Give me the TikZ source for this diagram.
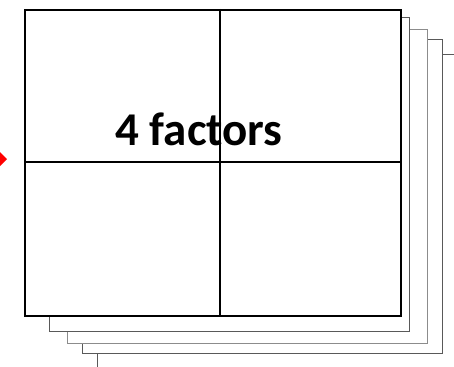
\documentclass[tikz,border=0pt]{standalone}
\usepackage{fontspec}
\setmainfont{Carlito}
\begin{document}
\begin{tikzpicture}[x=1pt,y=-1pt,
  page/.style={draw=black!65,fill=white,line width=0.9pt},
  mainbox/.style={draw=black,fill=white,line width=2.4pt},
  gridline/.style={draw=black,line width=2.2pt},
  label/.style={font=\fontsize{47}{47}\selectfont\bfseries,anchor=base,inner sep=0pt}]
\useasboundingbox (0,0) rectangle (454,366);
\clip (0,0) rectangle (454,366);
% stacked pages behind
\draw[page] (97,54) rectangle (470,380);
\draw[page] (82,39) rectangle (442,353);
\draw[page,draw=black!45] (67,29) rectangle (427,343);
\draw[page] (49,17) rectangle (409,331);
% main sheet
\node[mainbox,minimum width=376pt,minimum height=306pt,inner sep=0pt,anchor=north west] (sheet) at (24,9) {};
\coordinate (vt) at (220,9);
\coordinate (vb) at (220,315);
\coordinate (hl) at (24,162);
\coordinate (hr) at (400,162);
\draw[gridline] (vt) -- (vb);
\draw[gridline] (hl) -- (hr);
\node[label] (txt) at (199,146) {4 factors};
% red arrow tip entering from the left
\fill[red] (7,159) -- (-6,146) -- (-6,172) -- cycle;
\end{tikzpicture}
\end{document}
